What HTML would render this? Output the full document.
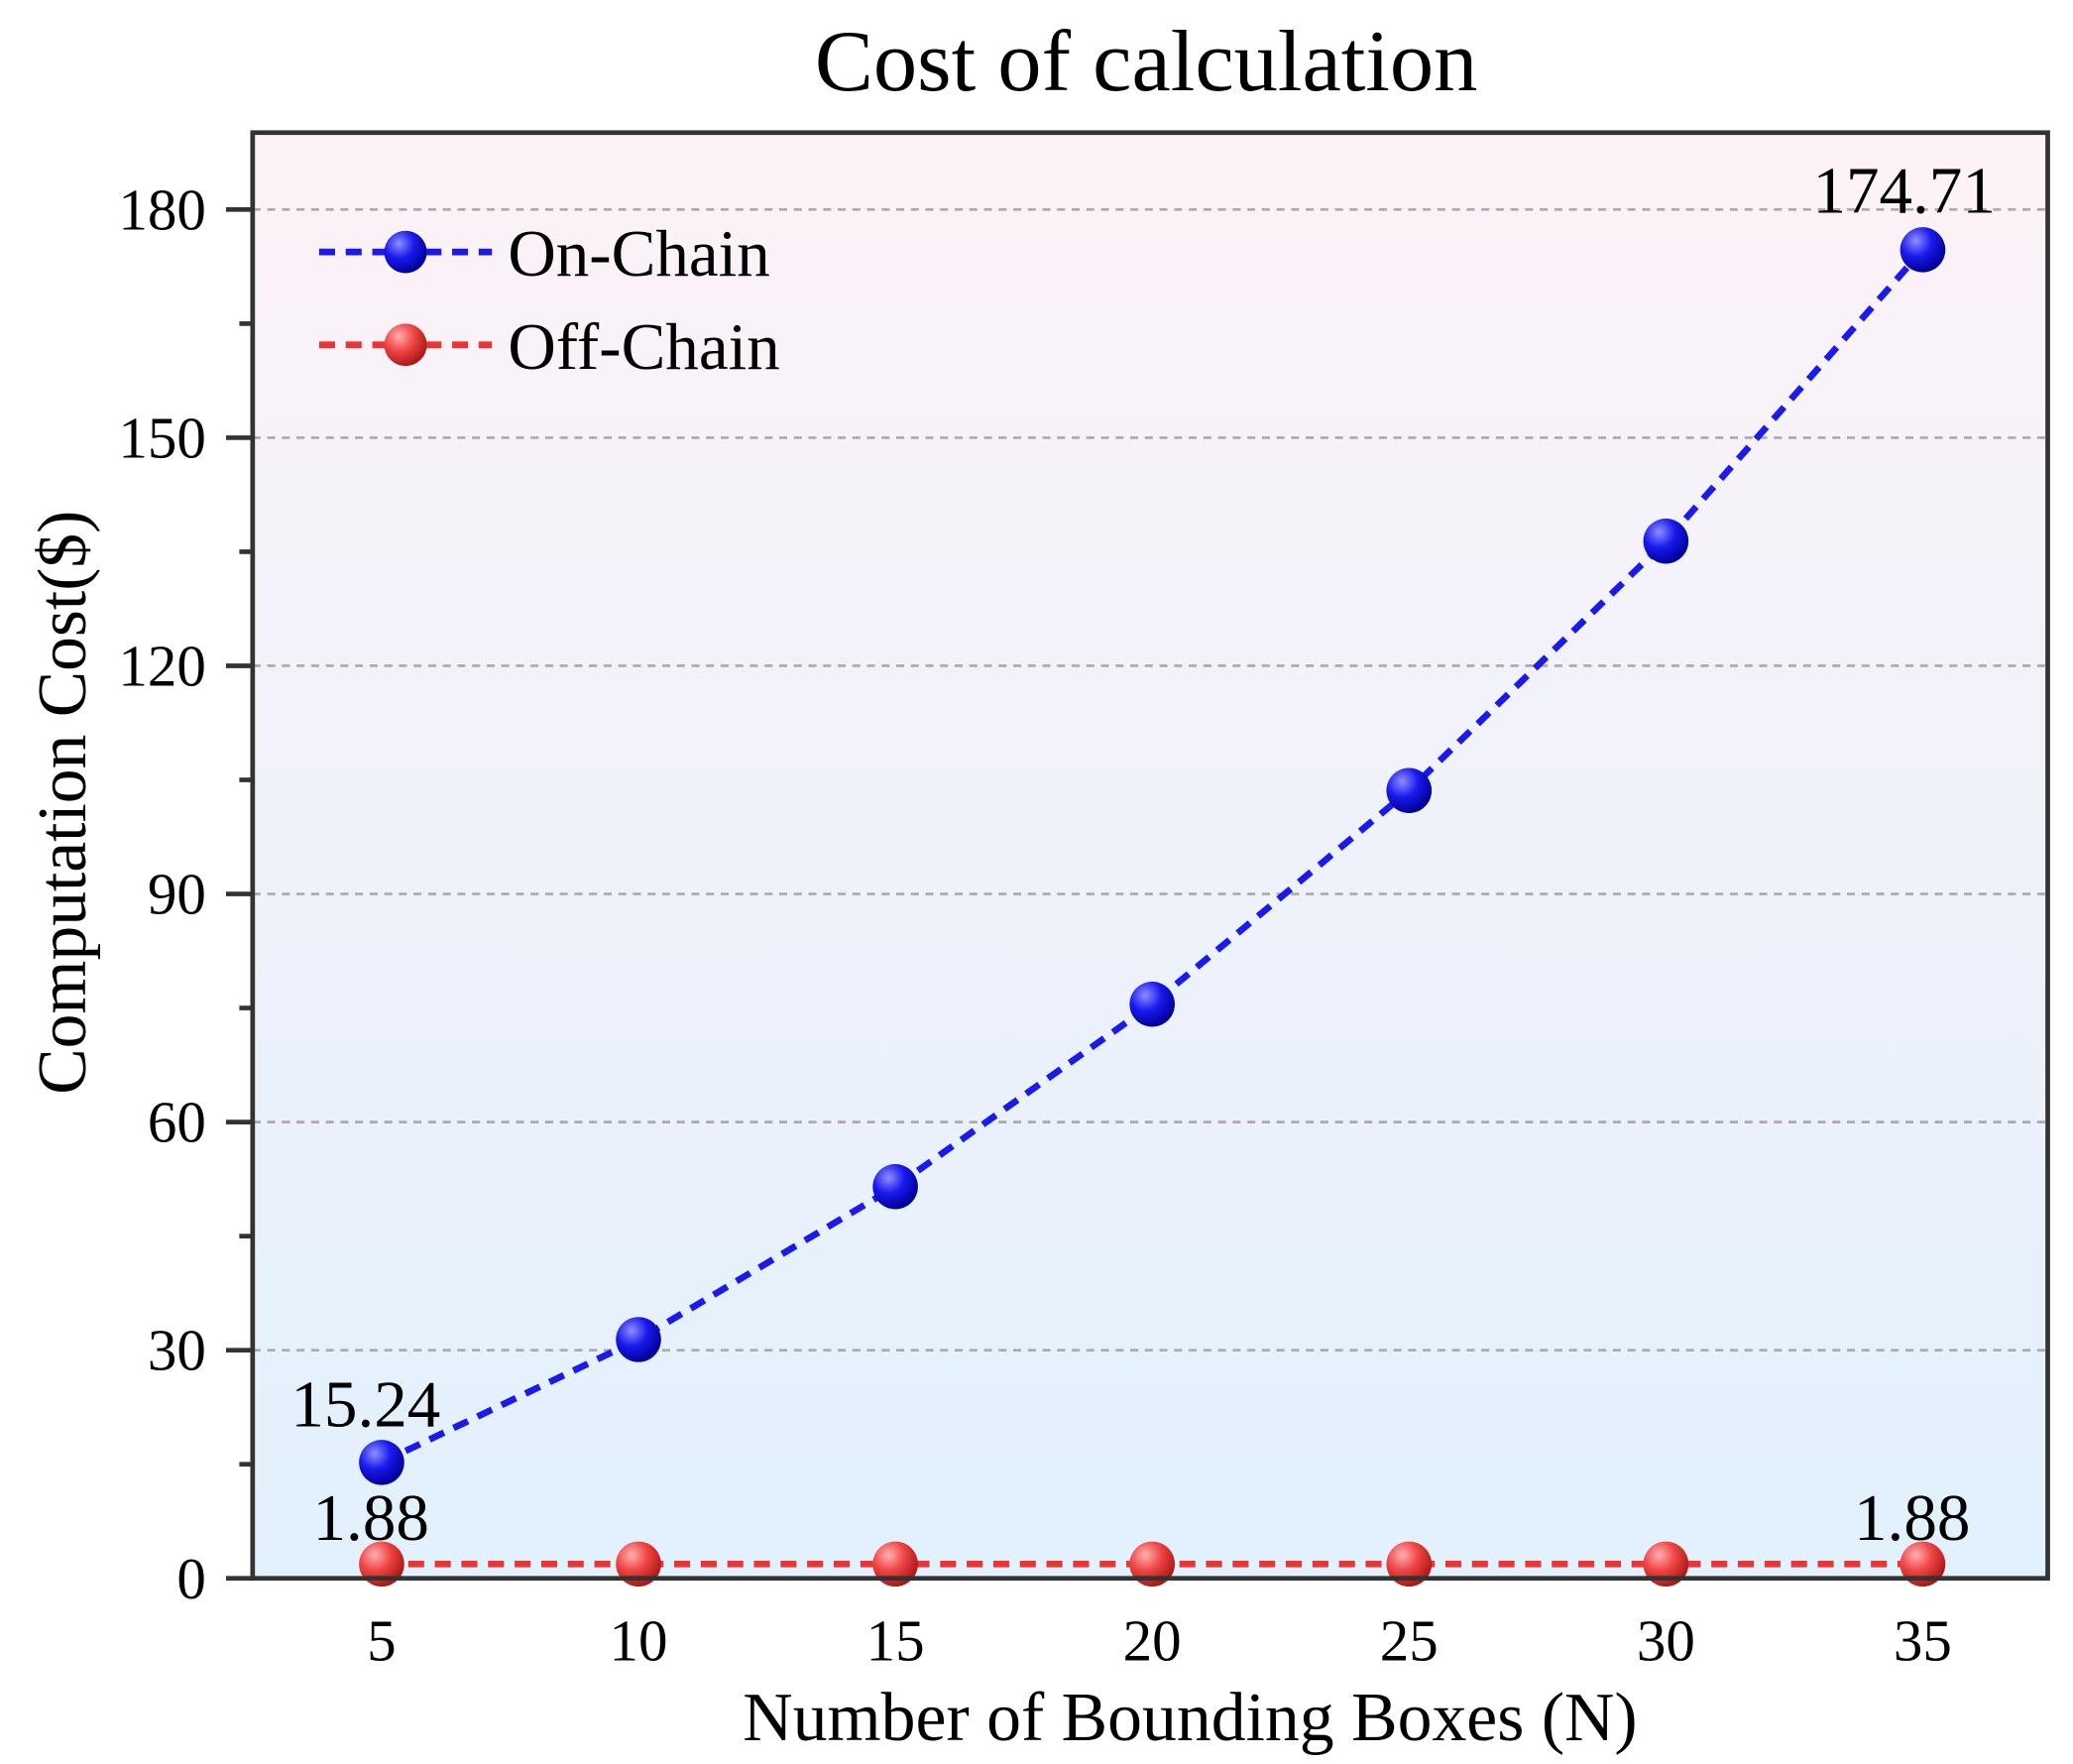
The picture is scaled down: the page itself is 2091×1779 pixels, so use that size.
<!DOCTYPE html>
<html><head><meta charset="utf-8"><style>
html,body{margin:0;padding:0;background:#fff;}
svg{display:block;font-family:"Liberation Serif",serif;}
</style></head><body>
<svg id="chart" width="2091" height="1779" viewBox="0 0 1559 1330" preserveAspectRatio="none" xmlns="http://www.w3.org/2000/svg">
<defs>
<linearGradient id="bg" x1="0" y1="0" x2="0" y2="1">
<stop offset="0" stop-color="#fdf2f8"/><stop offset="1" stop-color="#e1f1fd"/>
</linearGradient>
<radialGradient id="gb" cx="0.35" cy="0.3" r="0.7"><stop offset="0" stop-color="#8f8fff"/><stop offset="0.5" stop-color="#1a1aee"/><stop offset="1" stop-color="#00009a"/></radialGradient>
<radialGradient id="gr" cx="0.35" cy="0.3" r="0.7"><stop offset="0" stop-color="#ffb0b0"/><stop offset="0.5" stop-color="#f04545"/><stop offset="1" stop-color="#b01818"/></radialGradient>
</defs>
<rect x="190" y="100" width="1350" height="1090" fill="url(#bg)"/>
<g id="grid"></g><g id="axes"></g><g id="series"></g>
<rect x="190" y="100" width="1350" height="1090" fill="none" stroke="#333" stroke-width="3.5"/>
<text x="862" y="68" font-size="66" text-anchor="middle">Cost of calculation</text>
<text x="895" y="1312" font-size="52" text-anchor="middle">Number of Bounding Boxes (N)</text>
<text transform="translate(64,605) rotate(-90)" font-size="52" text-anchor="middle">Computation Cost($)</text>
<g>
<line x1="240" y1="190" x2="370" y2="190" stroke="#1a1aee" stroke-width="5" stroke-dasharray="12,8"/>
<circle cx="305" cy="190" r="16" fill="url(#gb)"/>
<text x="382" y="208" font-size="50">On-Chain</text>
<line x1="240" y1="260" x2="370" y2="260" stroke="#ee3333" stroke-width="5" stroke-dasharray="12,8"/>
<circle cx="305" cy="260" r="16" fill="url(#gr)"/>
<text x="382" y="278" font-size="50">Off-Chain</text>
</g>
</svg>
<script>
const categories=[5,10,15,20,25,30,35];
const onChain=[15.24,31.4,51.5,75.5,103.6,136.4,174.71];
const offChain=[1.88,1.88,1.88,1.88,1.88,1.88,1.88];
const yTicks=[0,30,60,90,120,150,180];
const NS="http://www.w3.org/2000/svg";
const X=v=>287+(v-5)*(1446-287)/30;
const Y=v=>1190-v*(1190-158)/180;
function mk(tag,attrs,parent){const e=document.createElementNS(NS,tag);for(const k in attrs)e.setAttribute(k,attrs[k]);parent.appendChild(e);return e;}
const grid=document.getElementById('grid'),axes=document.getElementById('axes'),ser=document.getElementById('series');
yTicks.forEach(t=>{
 if(t>0){const g=mk('line',{x1:190,x2:1540,y1:Y(t),y2:Y(t),stroke:'#aaa','stroke-width':2,'stroke-dasharray':'6,5'},grid);
 
 }
 const tk=mk('line',{x1:170,x2:190,y1:Y(t),y2:Y(t),stroke:'#333','stroke-width':3.5},axes);
 
 
 const lb=mk('text',{x:155,y:Y(t)+15,'font-size':44,'text-anchor':'end'},axes);lb.textContent=t;
 
 
 if(t<180){const m=mk('line',{x1:180,x2:190,y1:Y(t+15),y2:Y(t+15),stroke:'#333','stroke-width':3.5},axes);
 
 }
});
categories.forEach(c=>{
 const lb=mk('text',{x:X(c),y:1252,'font-size':44,'text-anchor':'middle'},axes);lb.textContent=c;
 
 
});
function line(vals,color,grad,name){
 const pts=vals.map((v,i)=>X(categories[i])+','+Y(v)).join(' ');
 const pl=mk('polyline',{points:pts,fill:'none',stroke:color,'stroke-width':5,'stroke-dasharray':'12,8'},ser);
 
 
 vals.forEach((v,i)=>{const c=mk('circle',{cx:X(categories[i]),cy:Y(v),r:17,fill:grad},ser);
 
 });
}
line(offChain,'#ee3333','url(#gr)','off-chain');
line(onChain,'#1a1aee','url(#gb)','on-chain');
function label(txt,x,y,name){const t=mk('text',{x:x,y:y,'font-size':50,'text-anchor':'middle'},ser);t.textContent=txt;
 
 }
label(onChain[0].toFixed(2),X(5)-12,Y(onChain[0])-27,'label-on-first');
label(onChain[6].toFixed(2),X(35)-14,Y(onChain[6])-28,'label-on-last');
label(offChain[0].toFixed(2),X(5)-8,Y(offChain[0])-18,'label-off-first');
label(offChain[6].toFixed(2),X(35)-8,Y(offChain[6])-18,'label-off-last');
</script>
</body></html>
